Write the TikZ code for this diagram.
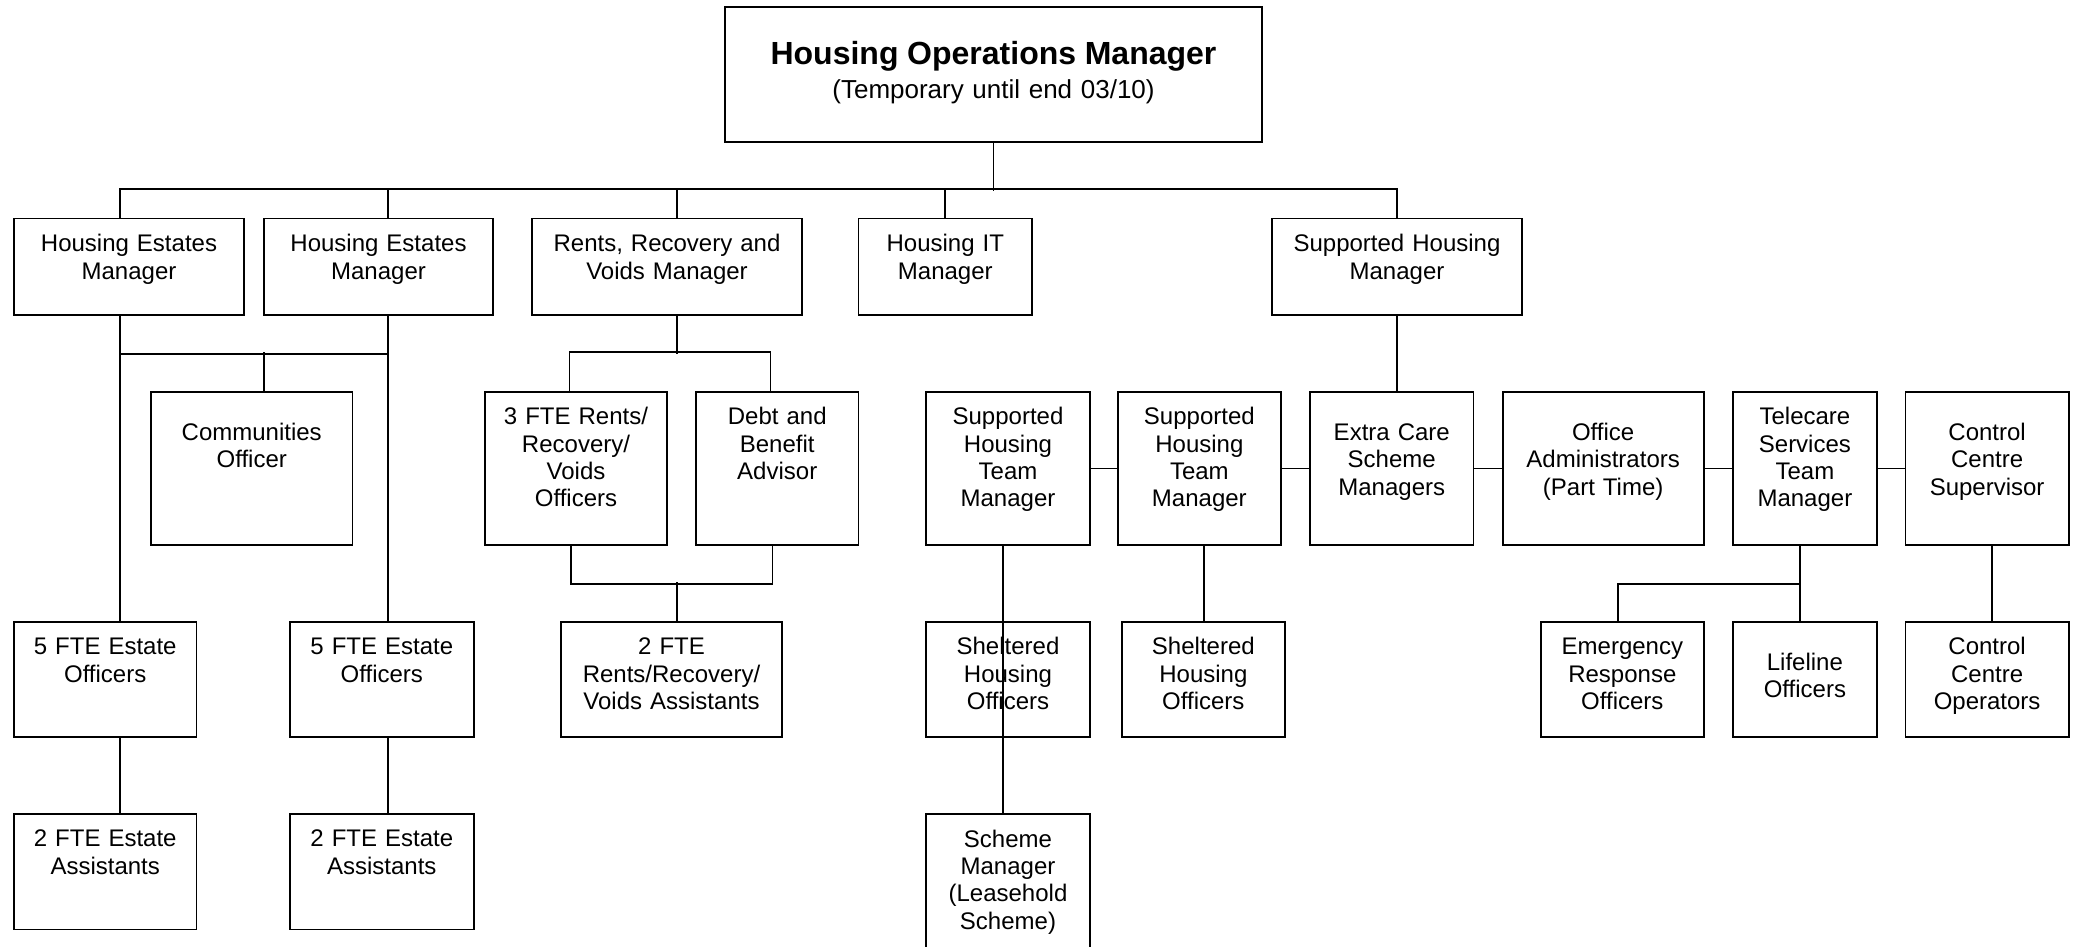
\documentclass[tikz,border=0pt]{standalone}
\usepackage{fontspec}
\setmainfont{Liberation Sans}
\usetikzlibrary{positioning}

\begin{document}
\begin{tikzpicture}[
		x=0.5pt, y=-0.5pt,
		box/.style={draw, rectangle, line width=0.9pt, inner sep=0pt, align=center,
			text height=16.5pt, font=\fontsize{12}{13.7}\selectfont},
		rowa/.style={box, text depth=31.7pt},
		rowb/.style={box, text depth=60.3pt},
		rowblow/.style={box, text height=24.3pt, text depth=52.5pt},
		rowc/.style={box, text depth=41.3pt},
		rowclow/.style={box, text height=24.3pt, text depth=33.5pt},
		link/.style={line width=0.9pt}
		]
	\useasboundingbox (0,0) rectangle (2074,947);

	% --- Direction ---
	\node[box, text width=268.5pt, text height=29pt, text depth=38.5pt,
		font=\fontsize{13}{17}\selectfont] (hom) at (993.5,74.5)
		{{\fontsize{16}{17}\selectfont\bfseries Housing Operations Manager}\\(Temporary until end 03/10)};

	% --- Niveau 1 ---
	\node[rowa, text width=115pt] (hemA) at (129,266.8) {Housing Estates\\Manager};
	\node[rowa, text width=114.5pt] (hemB) at (378.5,266.8) {Housing Estates\\Manager};
	\node[rowa, text width=135pt] (rrv) at (667,266.8) {Rents, Recovery and\\Voids Manager};
	\node[rowa, text width=86.8pt] (hit) at (945.3,266.8) {Housing IT\\Manager};
	\node[rowa, text width=125pt] (shm) at (1397,266.8) {Supported Housing\\Manager};

	% --- Niveau 2 ---
	\node[rowblow, text width=100.75pt] (com) at (251.75,468.5) {Communities\\Officer};
	\node[rowb, text width=91pt] (rvo) at (576,468.5) {3 FTE Rents/\\Recovery/\\Voids\\Officers};
	\node[rowb, text width=81.25pt] (dba) at (777.25,468.5) {Debt and\\Benefit\\Advisor};
	\node[rowb, text width=82pt] (shtA) at (1008,468.5) {Supported\\Housing\\Team\\Manager};
	\node[rowb, text width=81.65pt] (shtB) at (1199.35,468.5) {Supported\\Housing\\Team\\Manager};
	\node[rowblow, text width=81.75pt] (ecs) at (1391.75,468.5) {Extra Care\\Scheme\\Managers};
	\node[rowblow, text width=100.55pt] (oad) at (1603.15,468.5) {Office\\Administrators\\(Part Time)};
	\node[rowb, text width=72.1pt] (tsm) at (1804.9,468.5) {Telecare\\Services\\Team\\Manager};
	\node[rowblow, text width=81.7pt] (ccs) at (1987.1,468.5) {Control\\Centre\\Supervisor};

	% --- Niveau 3 ---
	\node[rowc, text width=91.2pt] (eoA) at (105.2,679.5) {5 FTE Estate\\Officers};
	\node[rowc, text width=91.8pt] (eoB) at (381.8,679.5) {5 FTE Estate\\Officers};
	\node[rowc, text width=110.5pt] (rva) at (671.5,679.5) {2 FTE\\Rents/Recovery/\\Voids Assistants};
	\node[rowc, text width=82pt] (shoA) at (1008,679.5) {Sheltered\\Housing\\Officers};
	\node[rowc, text width=81.65pt] (shoB) at (1203.35,679.5) {Sheltered\\Housing\\Officers};
	\node[rowc, text width=81.35pt] (ero) at (1622.35,679.5) {Emergency\\Response\\Officers};
	\node[rowclow, text width=72.1pt] (lfo) at (1804.9,679.5) {Lifeline\\Officers};
	\node[rowc, text width=81.7pt] (cco) at (1987.1,679.5) {Control\\Centre\\Operators};

	% --- Niveau 4 ---
	\node[rowc, text width=91.2pt] (eaA) at (105.2,871.6) {2 FTE Estate\\Assistants};
	\node[rowc, text width=91.8pt] (eaB) at (381.8,871.6) {2 FTE Estate\\Assistants};
	\node[box, text width=82pt, text depth=58.5pt] (smg) at (1008,889) {Scheme\\Manager\\(Leasehold\\Scheme)};

	% Liaisons vers le niveau 1
	\draw[link] (hom.south) -- ++(0,48);
	\draw[link] ([xshift=-4.5pt]hemA.north) -- ++(0,-28.6) -| (shm.north);
	\foreach \n/\s in {hemB/4.75pt, rrv/4.8pt, hit/0pt}
		\draw[link] ([xshift=\s]\n.north) -- ++(0,-28.6);

	% Estates
	\draw[link] ([xshift=-4.5pt]hemA.south) -- ([xshift=7.4pt]eoA.north);
	\draw[link] ([xshift=4.75pt]hemB.south) -- ([xshift=3.1pt]eoB.north);
	\draw[link] ([xshift=-4.5pt]hemA.south) ++(0,38) -- ++(268,0);
	\draw[link] ([xshift=6.1pt]com.north) -- ++(0,-38.7);
	\draw[link] ([xshift=7.4pt]eoA.south) -- ([xshift=7.4pt]eaA.north);
	\draw[link] ([xshift=3.1pt]eoB.south) -- ([xshift=3.1pt]eaB.north);

	% Rents, Recovery and Voids
	\draw[link] ([xshift=4.8pt]rrv.south) -- ++(0,38);
	\draw[link] ([xshift=-3.25pt]rvo.north) -- ++(0,-38.7) -| ([xshift=-3.4pt]dba.north);
	\draw[link] ([xshift=-2.5pt]rvo.south) -- ++(0,38) -| ([xshift=-2.4pt]dba.south);
	\draw[link] ([xshift=2.55pt]rva.north) -- ++(0,-38.4);

	% Supported Housing
	\draw[link] (shm.south) -- (shm.south |- ecs.north);
	\foreach \a/\b in {shtA/shtB, shtB/ecs, ecs/oad, oad/tsm, tsm/ccs}
		\draw[link] (\a) -- (\b);
	\draw[link] ([xshift=-2.5pt]shtA.south) -- ([xshift=-2.5pt]smg.north);
	\draw[link] ([xshift=2.5pt]shtB.south) -- ([xshift=0.5pt]shoB.north);
	\draw[link] ([xshift=-2.65pt]tsm.south) -- ([xshift=-2.65pt]lfo.north);
	\draw[link] ([xshift=-2.65pt]tsm.south) ++(0,38) -| ([xshift=-2.3pt]ero.north);
	\draw[link] ([xshift=2.45pt]ccs.south) -- ([xshift=2.45pt]cco.north);

\end{tikzpicture}
\end{document}
